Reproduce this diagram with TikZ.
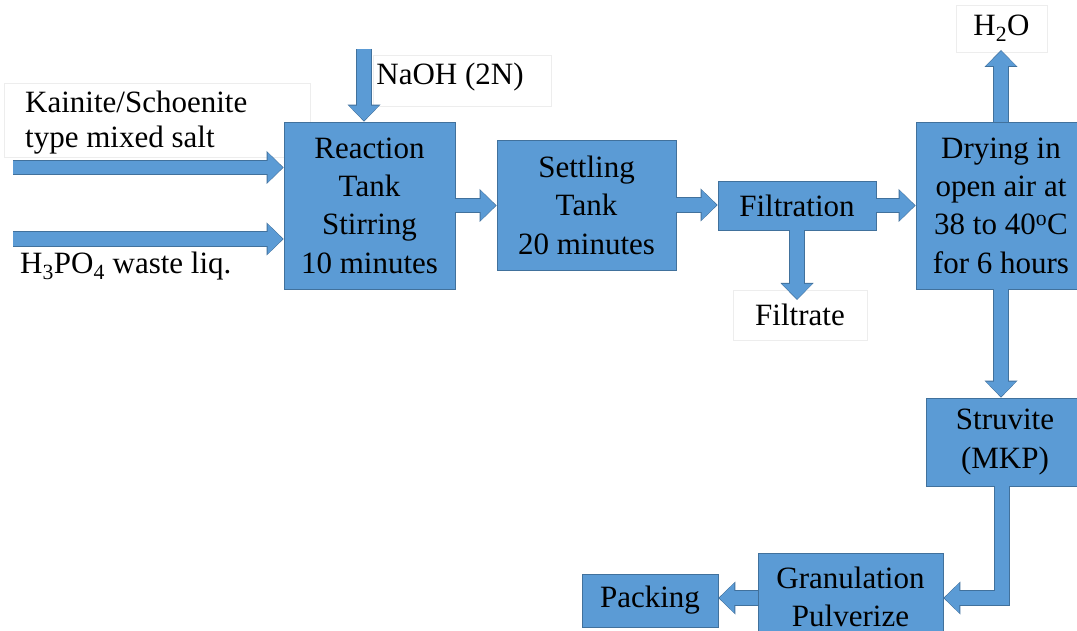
\documentclass[tikz,border=0pt]{standalone}
\usepackage{fontspec}
\setmainfont{Liberation Serif}
\usetikzlibrary{arrows.meta}
\definecolor{boxfill}{HTML}{5B9BD5}
\definecolor{boxedge}{HTML}{41719C}
\definecolor{faint}{HTML}{EDEDED}
\tikzset{
 box/.style={draw=boxedge, line width=0.8pt, fill=boxfill, align=center, font=\fontsize{31}{38.4}\selectfont, inner sep=0pt},
 boxtext/.style={align=center, font=\fontsize{31}{38.4}\selectfont, inner sep=0pt},
 lbl/.style={font=\fontsize{31}{35}\selectfont, inner sep=0pt},
 fr/.style={draw=faint, line width=0.8pt},
 flowedge/.style={draw=boxedge, line width=15.5pt, -{Triangle[width=33pt,length=17pt,line width=0pt]}},
 flowfill/.style={draw=boxfill, line width=13.5pt, -{Triangle[width=30pt,length=15pt,line width=0pt]}, shorten >=1pt},
}
\def\blockflow#1{\draw[flowedge] #1; \draw[flowfill] #1;}
\begin{document}
\begin{tikzpicture}[x=1pt,y=-1pt]
\useasboundingbox (0,0) rectangle (1077,631);
\clip (0,0) rectangle (1077,631);
\fill[white] (0,0) rectangle (1077,631);
% labels
\node[fr, minimum width=306pt, minimum height=74pt] (kainframe) at (157,120) {};
\node[lbl, anchor=west, align=left] (kain) at (25,122.5) {Kainite/Schoenite\\type mixed salt};
\node[fr, minimum width=178pt, minimum height=51pt] (naohframe) at (462,80.5) {};
\node[lbl] (naoh) at (450,77) {NaOH (2N)};
\node[lbl, anchor=west] (h3po4) at (20,266) {H\textsubscript{3}PO\textsubscript{4} waste liq.};
\node[lbl, fr, minimum width=134pt, minimum height=50pt] (filtrate) at (800,315) {Filtrate};
\node[lbl, fr, minimum width=91pt, minimum height=47pt] (water) at (1001.5,28.5) {H\textsubscript{2}O};
% process boxes
\node[box, minimum width=171pt, minimum height=167pt] (react) at (369.5,205.5) {Reaction\\Tank\\Stirring\\10 minutes};
\node[box, minimum width=179pt, minimum height=130pt] (settle) at (586.5,205) {Settling\\Tank\\20 minutes};
\node[box, minimum width=158pt, minimum height=49pt] (filt) at (797,205.5) {Filtration};
\node[box, minimum width=170pt, minimum height=167pt] (dry) at (1001,205.5) {Drying in\\open air at\\38 to 40\textsuperscript{o}C\\for 6 hours};
\node[box, minimum width=158pt, minimum height=88pt] (stru) at (1005,442) {Struvite\\(MKP)};
\node[box, minimum width=185pt, minimum height=82pt] (gran) at (850.5,594) {};
\node[boxtext] (grantext) at (850.5,597) {Granulation\\Pulverize};
\node[box, minimum width=136pt, minimum height=53pt] (pack) at (650,600.5) {Packing};
% free ends
\coordinate (kin) at (13,167.5);
\coordinate (hin) at (13,239);
\coordinate (ntop) at (364,49);
\coordinate (h2otip) at (1001,50);
\coordinate (ftip) at (796,300);
\coordinate (granin) at (850.5,598);
% connectors
\blockflow{(kin) -- (kin -| react.west)}
\blockflow{(hin) -- (hin -| react.west)}
\blockflow{(ntop) -- (ntop |- react.north)}
\blockflow{(react.east) -- (react.east -| settle.west)}
\blockflow{(settle.east) -- (settle.east -| filt.west)}
\blockflow{(filt.east) -- (filt.east -| dry.west)}
\blockflow{(filt.south) -- (filt.south |- ftip)}
\blockflow{(dry.north) -- (dry.north |- h2otip)}
\blockflow{(dry.south) -- (dry.south |- stru.north)}
\blockflow{([xshift=-3pt]stru.south) |- (granin -| gran.east)}
\blockflow{(granin -| gran.west) -- (granin -| pack.east)}
\end{tikzpicture}
\end{document}
